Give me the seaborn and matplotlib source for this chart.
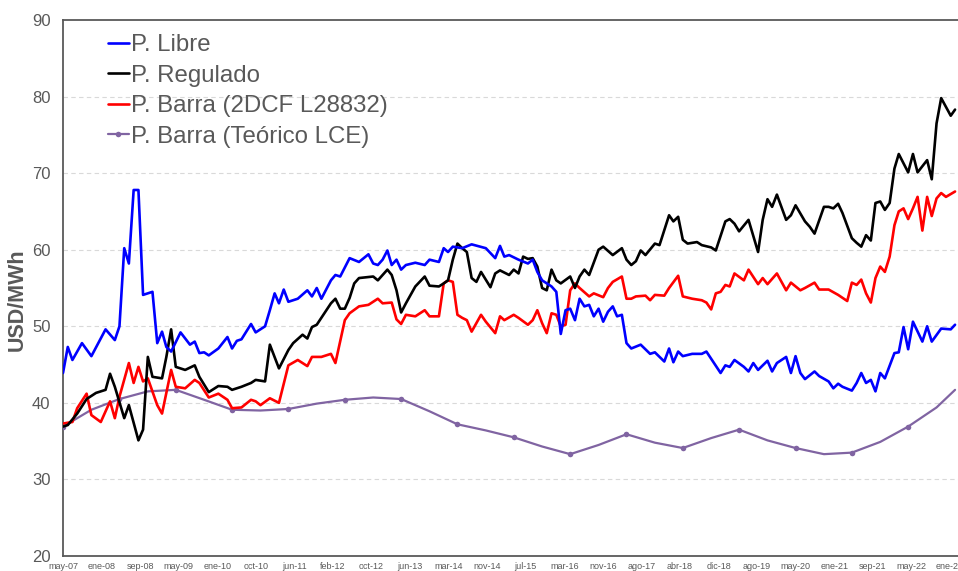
import matplotlib
matplotlib.use("Agg")
import matplotlib.pyplot as plt
import matplotlib.dates as mdates
import numpy as np
import pandas as pd
import seaborn as sns

# ---------------- data ----------------
START = "2007-05-01"          # first month of the series (may-07)

# months since may-07 / USD/MWh
libre_m = [0, 1, 2, 4, 6, 9, 11, 12, 13, 14, 15, 16, 17, 19, 20, 21, 22, 23, 25, 27, 28, 29, 30, 31, 33,
           35, 36, 37, 38, 40, 41, 43, 44, 45, 46, 47, 48, 50, 52, 53, 54, 55, 57, 58, 59, 61, 63, 65, 66,
           67, 68, 69, 70, 71, 72, 73, 75, 77, 78, 80, 81, 82, 83, 85, 87, 90, 92, 93, 94, 95, 97, 99,
           100, 101, 102, 104, 105, 106, 107, 108, 109, 110, 111, 112, 113, 114, 115, 116, 117, 118, 119,
           120, 121, 123, 125, 126, 128, 129, 130, 131, 132, 134, 136, 137, 140, 141, 142, 143, 145, 146,
           147, 148, 150, 151, 152, 154, 155, 156, 157, 158, 160, 161, 163, 164, 165, 166, 168, 169, 170,
           171, 172, 173, 174, 175, 177, 178, 179, 180, 181, 183, 184, 185, 187, 189, 190]
libre_v = [43.9, 47.3, 45.6, 47.8, 46.1, 49.6, 48.2, 50.0, 60.2, 58.2, 67.8, 67.8, 54.1, 54.5, 47.8, 49.3,
           47.3, 46.7, 49.2, 47.6, 48.0, 46.5, 46.6, 46.2, 47.1, 48.6, 47.1, 48.1, 48.3, 50.3, 49.2, 50.0,
           52.1, 54.3, 53.0, 54.8, 53.2, 53.6, 54.7, 53.9, 55.0, 53.6, 56.0, 56.7, 56.5, 58.9, 58.4, 59.4,
           58.2, 58.0, 58.7, 59.9, 58.0, 58.7, 57.4, 58.0, 58.3, 58.0, 58.7, 58.4, 60.2, 59.7, 60.4, 60.2,
           60.7, 60.2, 58.9, 60.5, 59.1, 59.3, 58.7, 58.2, 58.7, 57.1, 56.0, 55.2, 54.5, 49.0, 52.1, 52.3,
           50.8, 53.6, 52.6, 52.8, 51.3, 52.3, 50.6, 51.9, 52.6, 51.3, 51.5, 47.8, 47.1, 47.6, 46.4, 46.6,
           45.4, 47.1, 45.3, 46.7, 46.1, 46.4, 46.4, 46.7, 43.9, 44.9, 44.7, 45.6, 44.7, 44.1, 45.2, 44.3,
           45.5, 44.1, 45.2, 46.0, 43.9, 46.1, 43.9, 43.1, 44.1, 43.5, 42.8, 41.9, 42.5, 42.1, 41.6, 42.6,
           43.9, 42.6, 43.0, 41.5, 43.9, 43.2, 46.5, 46.6, 49.9, 47.0, 50.6, 48.0, 50.0, 48.0, 49.7, 49.6,
           50.2]

regulado_m = [0, 1, 3, 5, 7, 9, 10, 11, 13, 14, 16, 17, 18, 19, 21, 22, 23, 24, 26, 28, 29, 31, 33, 35,
              36, 38, 40, 41, 43, 44, 46, 48, 49, 51, 52, 53, 54, 57, 58, 59, 60, 61, 62, 63, 66, 67, 69,
              70, 71, 72, 73, 75, 77, 78, 80, 81, 82, 83, 84, 85, 86, 87, 88, 89, 91, 92, 93, 95, 96, 97,
              98, 99, 100, 101, 102, 103, 104, 105, 106, 108, 109, 110, 111, 112, 114, 115, 117, 119, 120,
              121, 122, 123, 124, 126, 127, 129, 130, 131, 132, 133, 135, 136, 138, 139, 141, 142, 143,
              144, 146, 148, 149, 150, 151, 152, 154, 155, 156, 158, 159, 160, 162, 163, 164, 165, 166,
              168, 169, 170, 171, 172, 173, 174, 175, 176, 177, 178, 180, 181, 182, 184, 185, 186, 187,
              189, 190]
regulado_v = [36.9, 37.1, 38.6, 40.5, 41.3, 41.7, 43.8, 42.1, 38.0, 39.7, 35.1, 36.5, 46.0, 43.4, 43.2,
              46.0, 49.6, 44.7, 44.3, 44.9, 43.4, 41.4, 42.2, 42.1, 41.7, 42.1, 42.6, 43.0, 42.8, 47.6,
              44.5, 46.9, 47.8, 48.9, 48.4, 49.9, 50.2, 53.0, 53.6, 52.3, 52.3, 53.7, 55.6, 56.3, 56.5,
              56.0, 57.4, 56.7, 54.7, 51.8, 53.0, 55.2, 56.5, 55.3, 55.2, 55.6, 56.0, 58.7, 60.8, 60.2,
              59.7, 56.3, 55.8, 57.1, 55.1, 56.9, 57.3, 56.7, 57.4, 56.9, 59.1, 58.8, 58.9, 57.8, 55.0,
              54.7, 57.4, 56.0, 55.6, 56.5, 55.0, 56.5, 57.4, 56.7, 60.0, 60.4, 59.3, 60.2, 58.7, 58.0,
              58.5, 59.9, 59.3, 60.8, 60.6, 64.5, 63.7, 64.3, 61.3, 60.8, 61.0, 60.6, 60.3, 59.9, 63.7,
              64.0, 63.4, 62.4, 63.9, 59.7, 63.9, 66.6, 65.6, 67.2, 63.9, 64.5, 65.8, 63.7, 63.0, 62.1,
              65.6, 65.6, 65.4, 66.0, 64.8, 61.5, 60.9, 60.4, 61.9, 61.2, 66.1, 66.3, 65.2, 66.1, 70.6,
              72.5, 70.1, 72.5, 70.1, 71.7, 69.2, 76.5, 79.8, 77.5, 78.3]

barra_m = [0, 2, 3, 5, 6, 8, 10, 11, 12, 14, 15, 16, 17, 18, 20, 21, 23, 24, 26, 28, 29, 31, 33, 35, 36,
           38, 40, 41, 42, 44, 46, 48, 50, 52, 53, 55, 57, 58, 60, 61, 63, 65, 67, 68, 70, 71, 72, 73, 75,
           77, 78, 80, 81, 82, 83, 84, 85, 86, 87, 89, 90, 92, 93, 94, 96, 97, 99, 100, 101, 102, 103, 104,
           105, 106, 107, 108, 109, 110, 112, 113, 115, 116, 117, 119, 120, 121, 122, 124, 125, 126, 128,
           129, 131, 132, 134, 136, 137, 138, 139, 140, 141, 142, 143, 145, 146, 148, 149, 150, 152, 154,
           155, 157, 158, 160, 161, 163, 165, 167, 168, 169, 170, 171, 172, 173, 174, 175, 176, 177, 178,
           179, 180, 181, 182, 183, 184, 185, 186, 187, 188, 190]
barra_v = [37.3, 37.5, 39.3, 41.2, 38.4, 37.5, 40.2, 38.0, 40.8, 45.2, 42.6, 44.7, 42.8, 43.2, 39.7, 38.6,
           44.3, 42.1, 41.9, 43.0, 42.6, 40.7, 41.2, 40.4, 39.3, 39.4, 40.4, 40.2, 39.7, 40.6, 40.0, 44.9,
           45.6, 44.8, 46.0, 46.0, 46.4, 45.2, 50.8, 51.7, 52.6, 52.8, 53.6, 53.0, 53.1, 50.9, 50.3, 51.5,
           51.3, 52.1, 51.3, 51.3, 55.6, 56.0, 55.8, 51.5, 51.1, 50.8, 49.3, 51.5, 50.6, 49.1, 51.3, 50.8,
           51.5, 51.1, 50.2, 50.8, 52.1, 50.4, 49.1, 51.7, 51.5, 50.0, 50.2, 54.7, 55.6, 55.0, 53.9, 54.3,
           53.8, 55.0, 55.8, 56.5, 53.6, 53.6, 53.9, 54.0, 53.4, 54.1, 54.0, 55.0, 56.6, 53.9, 53.6, 53.4,
           53.1, 52.2, 54.3, 54.5, 55.4, 55.2, 56.9, 56.0, 57.4, 55.5, 56.3, 55.5, 56.9, 54.7, 55.7, 54.7,
           55.0, 55.7, 54.8, 54.8, 54.1, 53.3, 55.7, 55.4, 56.1, 54.3, 53.1, 56.3, 57.8, 57.1, 59.1, 63.2,
           65.0, 65.4, 64.0, 65.4, 66.9, 62.5, 66.9, 64.4, 66.7, 67.4, 66.9, 67.6]

teorico_m = [0, 6, 12, 18, 24, 30, 36, 42, 48, 54, 60, 66, 72, 78, 84, 90, 96, 102, 108, 114, 120, 126,
             132, 138, 144, 150, 156, 162, 168, 174, 180, 186, 190]
teorico_v = [36.9, 39.1, 40.5, 41.5, 41.7, 40.4, 39.1, 39.0, 39.2, 39.9, 40.4, 40.7, 40.5, 38.9, 37.2,
             36.4, 35.5, 34.3, 33.3, 34.5, 35.9, 34.8, 34.1, 35.4, 36.5, 35.1, 34.1, 33.3, 33.5, 34.9,
             36.9, 39.4, 41.7]
teorico_marker_idx = list(range(0, 31, 2))   # yearly points carry a marker

tick_labels = ["may-07", "ene-08", "sep-08", "may-09", "ene-10", "oct-10", "jun-11", "feb-12",
               "oct-12", "jun-13", "mar-14", "nov-14", "jul-15", "mar-16", "nov-16", "ago-17",
               "abr-18", "dic-18", "ago-19", "may-20", "ene-21", "sep-21", "may-22", "ene-23"]
y_ticks = [20, 30, 40, 50, 60, 70, 80, 90]

names = ["P. Libre", "P. Regulado", "P. Barra (2DCF L28832)", "P. Barra (Teórico LCE)"]
colors = ["#0000ff", "#000000", "#ff0000", "#8064a2"]

# ---------------- build frames ----------------
start = pd.Timestamp(START)


def frame(months, values):
    return pd.DataFrame({"fecha": [start + pd.DateOffset(months=int(m)) for m in months],
                         "valor": values})


frames = [frame(libre_m, libre_v), frame(regulado_m, regulado_v),
          frame(barra_m, barra_v), frame(teorico_m, teorico_v)]

# ---------------- figure ----------------
sns.set_style("white")
plt.rcParams["font.family"] = ["Liberation Sans", "DejaVu Sans"]
TXT = "#595959"

fig = plt.figure(figsize=(9.58, 5.71), dpi=100)
W, H = 958, 571
ax = fig.add_axes([63 / W, 1 - 556 / H, 899 / W, 536 / H])

for i, (df, name, col) in enumerate(zip(frames, names, colors)):
    kw = dict(data=df, x="fecha", y="valor", color=col, label=name, ax=ax,
              linewidth=1.9, estimator=None, sort=False, zorder=3 + (3 - i))
    if i == 3:
        kw.update(marker="o", markersize=4, markeredgewidth=0, markevery=teorico_marker_idx,
                  linewidth=1.6)
    sns.lineplot(**kw)

# axes cosmetics
ax.set_ylim(20, 90)
ax.set_yticks(y_ticks)
ax.set_yticklabels([str(v) for v in y_ticks], fontsize=12, color=TXT)

tick_dates = [start + pd.Timedelta(days=250 * k) for k in range(len(tick_labels))]
ax.set_xticks(mdates.date2num(tick_dates))
ax.set_xticklabels(tick_labels, fontsize=6.5, color=TXT)
ax.set_xlim(mdates.date2num(start), mdates.date2num(start + pd.Timedelta(days=5828)))

ax.tick_params(axis="y", length=0, pad=9)
ax.tick_params(axis="x", length=0, pad=4)

ax.grid(False)
for yv in y_ticks[1:-1]:
    ax.axhline(yv, color="#d9d9d9", linewidth=0.8, linestyle=(0, (4, 3)), zorder=1)

for side in ["left", "top", "bottom", "right"]:
    ax.spines[side].set_color("#595959")
    ax.spines[side].set_linewidth(1.3)

ax.set_xlabel("")
ax.set_ylabel("USD/MWh", fontsize=15.5, fontweight="bold", color=TXT)
ax.yaxis.set_label_coords(-0.039, 0.478)

leg = ax.legend(loc="upper left", bbox_to_anchor=(0.050, 0.974), frameon=False,
                fontsize=17.3, handlelength=0.87, handletextpad=0.09, labelspacing=0.36,
                borderpad=0, borderaxespad=0)
for t in leg.get_texts():
    t.set_color(TXT)

fig.savefig("out.png", dpi=100)
